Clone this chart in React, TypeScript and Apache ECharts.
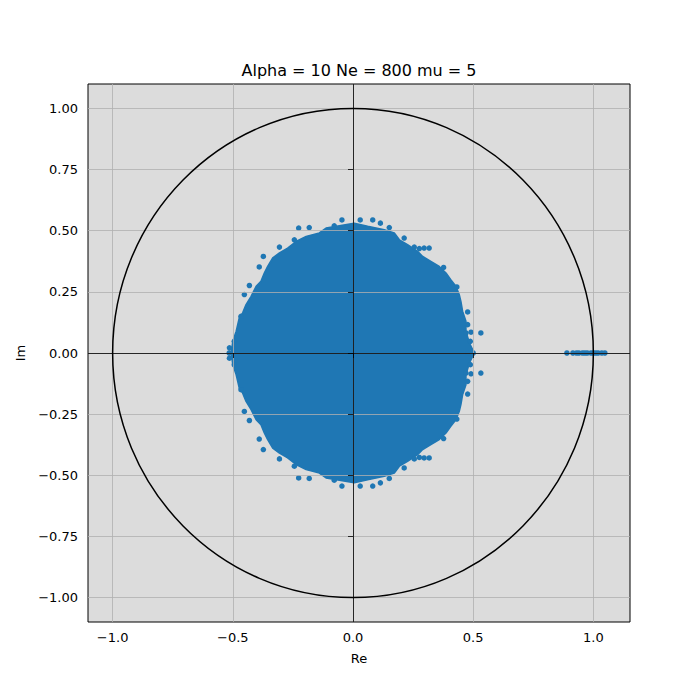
import { useEffect, useRef } from 'react'
import * as echarts from 'echarts'

const TITLE = 'Alpha = 10 Ne = 800 mu = 5'
const X_TICKS = [-1.0, -0.5, 0.0, 0.5, 1.0]
const Y_TICKS = [-1.0, -0.75, -0.5, -0.25, 0.0, 0.25, 0.5, 0.75, 1.0]
const X_RANGE = [-1.1025, 1.1525]
const Y_RANGE = [-1.1, 1.1]

// unit circle: centre (re, im) and radius
const UNIT_CIRCLE = [[0, 0, 1]]

// outline of the dense cloud of eigenvalues (Re, Im)
const CLOUD_EDGE: number[][] = [
  [0.505, 0.0], [0.484, 0.042], [0.47, 0.089], [0.47, 0.13], [0.456, 0.171],
  [0.449, 0.211], [0.442, 0.239], [0.428, 0.273], [0.407, 0.3], [0.387, 0.327],
  [0.359, 0.354], [0.324, 0.375], [0.29, 0.395], [0.269, 0.416], [0.227, 0.443],
  [0.193, 0.463], [0.172, 0.491], [0.13, 0.504], [0.061, 0.518], [0.005, 0.531],
  [-0.112, 0.511], [-0.14, 0.491], [-0.195, 0.477], [-0.237, 0.456], [-0.272, 0.429],
  [-0.306, 0.409], [-0.334, 0.389], [-0.355, 0.354], [-0.369, 0.327], [-0.383, 0.293],
  [-0.403, 0.273], [-0.424, 0.232], [-0.445, 0.198], [-0.459, 0.164], [-0.473, 0.144],
  [-0.486, 0.089], [-0.5, 0.048], [-0.507, 0.0],
  [-0.5, -0.048], [-0.486, -0.089], [-0.473, -0.144], [-0.459, -0.164], [-0.445, -0.198],
  [-0.424, -0.232], [-0.403, -0.273], [-0.383, -0.293], [-0.369, -0.327], [-0.355, -0.354],
  [-0.334, -0.389], [-0.306, -0.409], [-0.272, -0.429], [-0.237, -0.456], [-0.195, -0.477],
  [-0.14, -0.491], [-0.112, -0.511], [0.005, -0.531], [0.061, -0.518], [0.13, -0.504],
  [0.172, -0.491], [0.193, -0.463], [0.227, -0.443], [0.269, -0.416], [0.29, -0.395],
  [0.324, -0.375], [0.359, -0.354], [0.387, -0.327], [0.407, -0.3], [0.428, -0.273],
  [0.442, -0.239], [0.449, -0.211], [0.456, -0.171], [0.47, -0.13], [0.47, -0.089],
  [0.484, -0.042],
]

// single eigenvalues sticking out of the cloud edge
const EDGE_POINTS: number[][] = [
  [-0.046, 0.544], [-0.078, 0.52], [-0.182, 0.513], [-0.226, 0.511], [-0.244, 0.463],
  [-0.306, 0.433], [-0.373, 0.395], [-0.39, 0.352], [-0.431, 0.276], [-0.452, 0.239],
  [-0.466, 0.15], [-0.494, 0.048], [-0.514, 0.021],
  [0.03, 0.544], [0.082, 0.544], [0.114, 0.531], [0.151, 0.513], [0.213, 0.47],
  [0.255, 0.433], [0.276, 0.427], [0.296, 0.429], [0.317, 0.429], [0.377, 0.35],
  [0.432, 0.27], [0.477, 0.168], [0.477, 0.116], [0.47, 0.082], [0.491, 0.085],
  [0.532, 0.082], [0.488, 0.048],
  [-0.046, -0.544], [-0.078, -0.52], [-0.182, -0.513], [-0.226, -0.511], [-0.244, -0.463],
  [-0.306, -0.433], [-0.373, -0.395], [-0.39, -0.352], [-0.431, -0.276], [-0.452, -0.239],
  [-0.466, -0.15], [-0.494, -0.048], [-0.514, -0.021],
  [0.03, -0.544], [0.082, -0.544], [0.114, -0.531], [0.151, -0.513], [0.213, -0.47],
  [0.255, -0.433], [0.276, -0.427], [0.296, -0.429], [0.317, -0.429], [0.377, -0.35],
  [0.432, -0.27], [0.477, -0.168], [0.477, -0.116], [0.47, -0.082], [0.491, -0.085],
  [0.532, -0.082], [0.488, -0.048],
]

// real eigenvalues
const REAL_POINTS = [
  -0.515, -0.5, 0.48, 0.5, 0.89, 0.915, 0.93, 0.94, 0.955, 0.965, 0.975, 0.99,
  1.0, 1.01, 1.02, 1.035, 1.048,
]

const BLUE = '#1f77b4'
const FONT = 'DejaVu Sans'

const minus = (s: string) => s.replace('-', '\u2212')

export default function App() {
  const chartRef = useRef<HTMLDivElement>(null)

  useEffect(() => {
    if (!chartRef.current) return
    const chart = echarts.init(chartRef.current, undefined, { renderer: 'svg' })

    const axisCommon = {
      type: 'value' as const,
      z: 5,
      axisLine: { show: false },
      axisTick: { show: true, length: 5, lineStyle: { color: '#000', width: 0.8 } },
      splitLine: { show: true, lineStyle: { color: '#b0b0b0', width: 0.8 } },
      nameLocation: 'middle' as const,
      nameTextStyle: { color: '#000', fontSize: 13, fontFamily: FONT },
    }

    chart.setOption({
      animation: false,
      backgroundColor: '#fff',
      graphic: [
        {
          type: 'text',
          x: 359,
          y: 70,
          style: {
            text: TITLE,
            fill: '#000',
            font: `16px "${FONT}"`,
            textAlign: 'center',
            textVerticalAlign: 'middle',
          },
        },
      ],
      grid: {
        left: 88,
        right: 70,
        top: 84,
        bottom: 78,
        show: true,
        backgroundColor: '#dcdcdc',
        borderColor: '#000',
        borderWidth: 1,
      },
      xAxis: {
        ...axisCommon,
        min: X_RANGE[0],
        max: X_RANGE[1],
        name: 'Re',
        nameGap: 30,
        axisTick: { ...axisCommon.axisTick, customValues: X_TICKS },
        axisLabel: {
          customValues: X_TICKS,
          margin: 9,
          color: '#000',
          fontSize: 13,
          fontFamily: FONT,
          formatter: (v: number) => minus(v.toFixed(1)),
        },
      },
      yAxis: {
        ...axisCommon,
        min: Y_RANGE[0],
        max: Y_RANGE[1],
        name: 'Im',
        nameGap: 58,
        axisTick: { ...axisCommon.axisTick, customValues: Y_TICKS },
        axisLabel: {
          customValues: Y_TICKS,
          margin: 10,
          color: '#000',
          fontSize: 13,
          fontFamily: FONT,
          formatter: (v: number) => minus(v.toFixed(2)),
        },
      },
      series: [
        {
          type: 'custom',
          z: 2,
          silent: true,
          data: [[0, 0]],
          renderItem: (_p: any, api: any) => ({
            type: 'polygon',
            shape: { points: CLOUD_EDGE.map((p) => api.coord(p)) },
            style: { fill: BLUE, stroke: BLUE, lineWidth: 1.5, lineJoin: 'round' },
          }),
        },
        {
          type: 'scatter',
          z: 2,
          symbolSize: 5.5,
          itemStyle: { color: BLUE, opacity: 1 },
          data: EDGE_POINTS,
        },
        {
          type: 'scatter',
          z: 2,
          symbolSize: 5.5,
          itemStyle: { color: BLUE, opacity: 1 },
          data: REAL_POINTS.map((re) => [re, 0]),
        },
        {
          type: 'custom',
          z: 10,
          silent: true,
          data: UNIT_CIRCLE,
          renderItem: (_p: any, api: any) => {
            const c = api.coord([api.value(0), api.value(1)])
            const r = api.value(2)
            const s = api.size([r, r])
            return {
              type: 'ellipse',
              shape: { cx: c[0], cy: c[1], rx: s[0], ry: s[1] },
              style: { fill: 'none', stroke: '#000', lineWidth: 1.5 },
            }
          },
          markLine: {
            silent: true,
            symbol: 'none',
            label: { show: false },
            lineStyle: { color: '#000', width: 0.8, type: 'solid' },
            data: [{ xAxis: 0 }, { yAxis: 0 }],
          },
        },
      ],
    })

    return () => chart.dispose()
  }, [])

  return (
    <div
      ref={chartRef}
      style={{ position: 'fixed', left: 0, top: 0, width: 700, height: 700 }}
    />
  )
}
